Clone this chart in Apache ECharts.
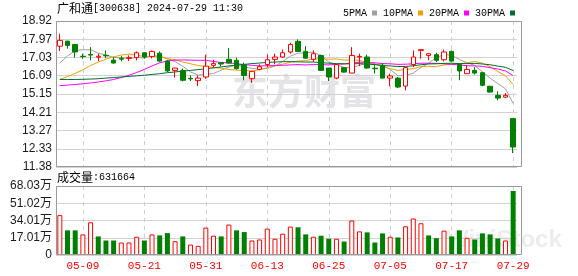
<!DOCTYPE html>
<html><head><meta charset="utf-8">
<script src="https://cdn.jsdelivr.net/npm/echarts@6/dist/echarts.min.js"></script>
<style>html,body{margin:0;padding:0;background:#fff}#c{width:578px;height:276px}</style>
</head><body><div id="c"></div>
<script>
const dates = ['05-06','05-07','05-08','05-09','05-10','05-13','05-14','05-15','05-16','05-17',
'05-20','05-21','05-22','05-23','05-24','05-27','05-28','05-29','05-30','05-31',
'06-03','06-04','06-05','06-06','06-07','06-11','06-12','06-13','06-14','06-17',
'06-18','06-19','06-20','06-21','06-24','06-25','06-26','06-27','06-28','07-01',
'07-02','07-03','07-04','07-05','07-08','07-09','07-10','07-11','07-12','07-15',
'07-16','07-17','07-18','07-19','07-22','07-23','07-24','07-25','07-26','07-29'];
const labelDates = ['05-09','05-21','05-31','06-13','06-25','07-05','07-17','07-29'];

const openP = [17.62,17.88,17.71,17.10,17.19,17.05,17.15,16.90,16.99,16.99,
17.03,17.28,17.09,17.26,16.85,16.37,16.37,15.96,15.84,16.03,
16.63,16.76,16.94,16.89,16.63,15.94,16.42,16.67,16.94,17.06,
17.32,17.87,17.35,16.94,17.14,16.49,15.97,16.51,16.23,17.06,
17.06,16.48,16.63,15.97,15.97,15.56,16.67,17.40,17.14,17.18,
16.92,17.35,16.67,16.20,16.37,16.25,15.55,15.08,14.99,13.88];
const closeP = [17.92,17.66,17.32,17.08,17.16,17.10,17.12,16.75,16.95,17.03,
17.28,17.06,17.35,16.85,16.34,16.49,15.86,15.93,15.97,16.59,
16.72,16.70,16.75,16.46,16.11,16.32,16.56,16.92,17.06,17.28,
17.71,17.35,17.00,17.23,16.37,16.03,16.67,16.28,17.14,17.09,
16.49,16.45,15.97,16.08,15.51,16.51,17.06,17.44,17.23,16.89,
17.32,16.85,16.34,16.42,16.23,15.60,15.25,14.94,15.08,12.41];
const lowP = [17.37,17.49,17.03,16.97,16.89,16.85,17.00,16.72,16.84,16.85,
16.89,16.97,16.99,16.80,16.28,16.00,15.80,15.82,15.56,15.94,
16.49,16.58,16.72,16.41,15.86,15.72,16.37,16.54,16.68,17.03,
17.23,17.35,16.97,16.80,16.34,15.82,15.91,16.26,16.23,16.59,
16.46,16.20,15.96,15.55,15.46,15.34,16.54,16.97,16.89,16.80,
16.84,16.84,15.86,16.20,16.15,15.55,15.22,14.82,14.94,12.10];
const highP = [18.26,17.90,17.73,17.23,17.57,17.23,17.40,17.06,17.11,17.14,
17.35,17.30,17.40,17.35,16.92,16.50,16.46,16.11,16.11,17.18,
16.92,16.80,17.52,17.03,16.77,16.34,16.68,17.18,17.23,17.45,
17.80,17.97,17.62,17.40,17.18,16.50,16.68,16.52,17.57,17.23,
17.18,16.72,16.75,16.20,16.03,16.54,17.40,17.45,17.26,17.28,
17.44,17.40,16.72,16.63,16.54,16.28,15.56,15.29,15.20,13.88];

const ma5 = [16.75,17.12,17.38,17.44,17.43,17.26,17.16,17.04,17.02,16.99,
17.03,17.01,17.13,17.11,16.98,16.82,16.58,16.29,16.12,16.17,
16.21,16.38,16.55,16.64,16.55,16.47,16.44,16.47,16.59,16.83,
17.11,17.26,17.28,17.31,17.13,16.80,16.66,16.52,16.50,16.64,
16.73,16.69,16.63,16.42,16.10,16.10,16.23,16.52,16.75,17.03,
17.19,17.15,16.93,16.76,16.63,16.29,15.97,15.69,15.42,14.66];
const ma10 = [15.90,16.05,16.22,16.40,16.62,16.80,16.95,17.07,17.16,17.21,
17.15,17.09,17.09,17.07,16.98,16.92,16.80,16.71,16.62,16.57,
16.52,16.48,16.42,16.38,16.36,16.34,16.41,16.51,16.62,16.69,
16.79,16.85,16.88,16.95,16.98,16.95,16.96,16.90,16.91,16.89,
16.77,16.68,16.57,16.46,16.37,16.42,16.46,16.57,16.58,16.56,
16.65,16.69,16.72,16.76,16.83,16.74,16.56,16.31,16.09,15.64];
const ma20 = [15.58,15.61,15.64,15.68,15.72,15.77,15.83,15.90,16.00,16.12,
16.26,16.42,16.60,16.76,16.86,16.90,16.91,16.90,16.89,16.89,
16.83,16.78,16.75,16.72,16.67,16.63,16.60,16.61,16.62,16.63,
16.65,16.67,16.65,16.67,16.67,16.65,16.69,16.70,16.76,16.79,
16.78,16.76,16.72,16.71,16.68,16.69,16.71,16.74,16.74,16.73,
16.71,16.68,16.65,16.61,16.60,16.58,16.51,16.44,16.34,16.10];
const ma30 = [15.90,15.90,15.90,15.91,15.92,15.94,15.97,16.00,16.03,16.06,
16.09,16.12,16.16,16.20,16.25,16.29,16.33,16.37,16.41,16.45,
16.50,16.55,16.60,16.64,16.68,16.72,16.75,16.78,16.80,16.82,
16.82,16.81,16.80,16.80,16.77,16.74,16.72,16.71,16.71,16.72,
16.69,16.67,16.62,16.60,16.57,16.57,16.61,16.66,16.70,16.71,
16.73,16.74,16.72,16.72,16.73,16.70,16.66,16.59,16.53,16.36];

// volume in 万 (10k lots)
const volume = [39.3,24.3,24.3,20.3,32.3,18.3,14.3,14.3,12.3,12.3,
18.0,14.3,20.3,19.3,21.6,13.6,18.3,10.3,9.0,27.0,
19.0,18.3,30.0,24.3,22.6,14.3,15.3,26.0,16.0,21.0,
28.0,27.3,20.3,18.0,19.0,16.0,16.0,13.3,34.0,23.3,
22.3,12.3,21.3,18.0,17.3,28.3,36.0,31.3,19.3,16.6,
24.0,18.3,24.3,17.0,15.3,21.3,20.3,16.3,14.3,63.1664];
const volDir = [1,-1,-1,1,1,-1,-1,-1,1,1,
1,-1,1,-1,-1,1,-1,1,1,1,
1,-1,1,-1,-1,1,1,1,1,1,
1,-1,-1,1,-1,-1,1,-1,1,1,
-1,-1,-1,1,-1,1,1,1,-1,-1,
1,-1,-1,1,-1,-1,-1,-1,1,-1];
const lastVolume = '631664';

const priceTicks = ['11.38','12.33','13.27','14.21','15.15','16.09','17.03','17.97','18.92'];
const volTicks = ['0','17.01万','34.01万','51.02万','68.03万'];
const priceMin = 11.38, priceMax = 18.92;
const volMax = 68.03;

const UP = '#ff0000', DOWN = '#008000';
const candleData = dates.map((d,i)=>[openP[i],closeP[i],lowP[i],highP[i]]);
const volData = volume.map((v,i)=>({value:v, itemStyle: volDir[i]>0
  ? {color:'#ffffff', borderColor:UP, borderWidth:1}
  : {color:DOWN, borderColor:DOWN, borderWidth:0}}));

const showIdx = (idx)=> labelDates.indexOf(dates[idx]) >= 0;
const pInt = (priceMax-priceMin)/(priceTicks.length-1);
const vInt = volMax/(volTicks.length-1);

const chart = echarts.init(document.getElementById('c'), null, {renderer:'canvas'});
const splitX = {show:true, interval:(i)=>showIdx(i), alignWithLabel:true,
  lineStyle:{type:[4,4], color:'#cfcfcf', width:1}};
const mkLine = (name, data, color)=>({name, type:'line', data, xAxisIndex:0, yAxisIndex:0,
  symbol:'none', showSymbol:false, silent:true, color, lineStyle:{width:1, color}, z:2});

chart.setOption({
  animation:false,
  backgroundColor:'#ffffff',
  legend:{left:338, top:3, itemWidth:5, itemHeight:5, itemGap:6, align:'right', icon:'rect',
    textStyle:{fontFamily:'Liberation Mono', fontSize:10, color:'#000'},
    data:['5PMA','10PMA','20PMA','30PMA']},
  grid:[{left:56, top:21, width:461, height:146},{left:56, top:186, width:461, height:69}],
  xAxis:[
    {type:'category', gridIndex:0, data:dates, boundaryGap:true,
     axisLine:{show:false}, axisTick:{show:false}, axisLabel:{show:false}, splitLine:splitX},
    {type:'category', gridIndex:1, data:dates, boundaryGap:true,
     axisLine:{show:false}, axisTick:{show:false, alignWithLabel:true},
     axisLabel:{show:true, interval:(i)=>showIdx(i), color:'#ff0000', fontFamily:'Liberation Mono', fontSize:11, margin:6},
     splitLine:splitX}
  ],
  yAxis:[
    {type:'value', gridIndex:0, min:priceMin, max:priceMax, interval:pInt, scale:true,
     axisLine:{show:false}, axisTick:{show:false},
     axisLabel:{margin:4, fontFamily:'Liberation Sans', fontSize:12, color:'#1a1a1a',
       formatter:(v)=>priceTicks[Math.round((v-priceMin)/pInt)]},
     splitLine:{show:true, lineStyle:{color:'#d2d2d2', width:1}}},
    {type:'value', gridIndex:1, min:0, max:volMax, interval:vInt,
     axisLine:{show:false}, axisTick:{show:false},
     axisLabel:{margin:4, fontFamily:'Liberation Sans, Noto Sans CJK SC', fontSize:12, color:'#1a1a1a',
       formatter:(v)=>volTicks[Math.round(v/vInt)]},
     splitLine:{show:true, lineStyle:{color:'#d2d2d2', width:1}}}
  ],
  graphic:[
    {type:'text', left:232, top:73, z:0, silent:true,
     style:{text:'东方财富', fontFamily:'Noto Sans CJK SC', fontSize:36, fontWeight:'bold', fill:'#e3e3e8'}},
    {type:'text', left:446, top:228, z:0, silent:true,
     style:{text:'WiniStock', fontFamily:'Liberation Sans', fontSize:24, fontWeight:'bold', fill:'#ececec'}},
    {type:'text', left:57, top:2, z:10, silent:true,
     style:{text:'{a|广和通}{b|[300638] 2024-07-29 11:30}',
       rich:{a:{fontFamily:'Noto Sans CJK SC', fontSize:12, fill:'#000'},
             b:{fontFamily:'Liberation Mono', fontSize:10, fill:'#000'}}}},
    {type:'text', left:57, top:171, z:10, silent:true,
     style:{text:'{a|成交量}{b|:'+lastVolume+'}',
       rich:{a:{fontFamily:'Noto Sans CJK SC', fontSize:12, fill:'#000'},
             b:{fontFamily:'Liberation Mono', fontSize:10, fill:'#000'}}}},
    {type:'rect', z:20, silent:true, shape:{x:56.5, y:21.5, width:465, height:145},
     style:{fill:'none', stroke:'#9a9a9a', lineWidth:1}},
    {type:'rect', z:20, silent:true, shape:{x:56.5, y:186.5, width:465, height:68},
     style:{fill:'none', stroke:'#9a9a9a', lineWidth:1}}
  ],
  series:[
    mkLine('5PMA', ma5, '#a0a0a0'),
    mkLine('10PMA', ma10, '#f0a000'),
    mkLine('20PMA', ma20, '#ff00ff'),
    mkLine('30PMA', ma30, '#006e2e'),
    {name:'K', type:'candlestick', data:candleData, xAxisIndex:0, yAxisIndex:0, barWidth:5, z:3,
     itemStyle:{color:'#ffffff', color0:DOWN, borderColor:UP, borderColor0:DOWN, borderWidth:1}},
    {name:'VOL', type:'bar', data:volData, xAxisIndex:1, yAxisIndex:1, barWidth:5}
  ]
});
</script></body></html>
